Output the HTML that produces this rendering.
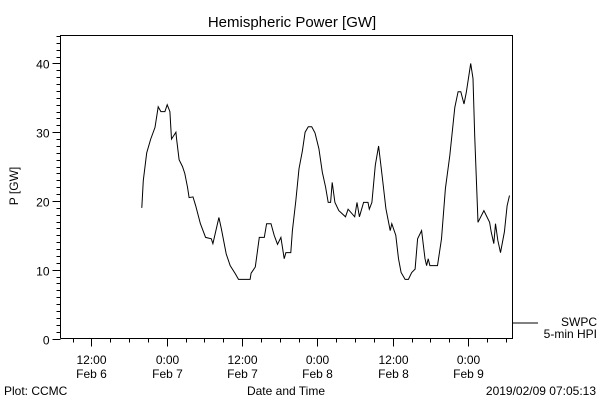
<!DOCTYPE html>
<html><head><meta charset="utf-8"><style>
body{margin:0;background:#fff}
svg text{font-family:"Liberation Sans",sans-serif;fill:#000}
</style></head><body>
<svg id="chart" width="600" height="400" viewBox="0 0 600 400" xmlns="http://www.w3.org/2000/svg">
<text x="292" y="27" font-size="15" text-anchor="middle">Hemispheric Power [GW]</text>
<text x="18" y="186" font-size="12" text-anchor="middle" transform="rotate(-90 18 186)">P [GW]</text>
<text x="286" y="395" font-size="12" text-anchor="middle">Date and Time</text>
<text x="4" y="395" font-size="12">Plot: CCMC</text>
<text x="596" y="395" font-size="12" text-anchor="end">2019/02/09 07:05:13</text>
<g id="axes"></g>
<polyline id="series" fill="none" stroke="#000" stroke-width="1"/>
<line x1="513" y1="323" x2="538" y2="323" stroke="#000"/>
<text x="597" y="326" font-size="12" text-anchor="end">SWPC</text>
<text x="597" y="338" font-size="12" text-anchor="end">5-min HPI</text>
</svg>
<script>
// hours since Feb 6 00:00
const hours=[20.03,20.28,20.82,21.45,22.13,22.65,23.08,23.71,24.08,24.51,24.77,25.46,25.57,25.98,26.52,26.88,27.31,27.56,28.19,28.62,29.37,30.20,31.11,31.36,32.31,32.69,33.48,34.12,34.95,35.43,37.28,37.44,38.12,38.75,39.54,39.91,40.61,41.13,41.65,42.19,42.71,42.98,43.77,44.03,44.57,45.08,45.61,46.04,46.56,47.10,47.62,48.25,48.78,49.31,49.72,50.10,50.36,50.79,51.42,52.48,52.89,53.95,54.31,54.69,55.37,56.06,56.28,56.69,57.23,57.75,58.38,58.91,59.60,59.86,60.49,60.92,61.34,61.98,62.50,63.02,63.56,63.97,64.61,65.14,65.40,65.66,65.93,67.14,67.77,68.40,69.10,69.89,70.41,70.84,71.36,71.73,72.42,72.79,73.06,73.58,74.53,75.43,75.69,76.11,76.38,76.74,77.17,77.80,78.22,78.60];
const power=[19,23,27,29,30.7,33.7,33,33,34,33,29,30,29,26,25,24,22,20.5,20.6,19.3,16.7,14.7,14.5,13.8,17.6,16,12.3,10.6,9.4,8.6,8.6,9.5,10.4,14.7,14.7,16.7,16.7,15,13.7,14.7,11.6,12.5,12.5,15.7,20,24.7,27.3,30,30.8,30.8,29.9,27.6,24.2,22,19.8,19.8,22.7,19.8,18.6,17.7,18.8,17.7,19.8,17.7,19.8,19.8,18.8,19.8,25.2,28,23.2,18.9,15.7,16.7,15,11.6,9.6,8.6,8.6,9.6,10.1,14.5,15.7,11.6,10.6,11.6,10.6,10.6,14.5,21.8,26.6,33.6,35.9,35.9,34.1,35.8,40,37.8,29.5,16.9,18.6,16.9,15.5,13.8,16.7,14.3,12.5,15.5,19.3,20.8];
const yTicks=["0","10","20","30","40"];
const xTickLabels=[["12:00","Feb 6"],["0:00","Feb 7"],["12:00","Feb 7"],["0:00","Feb 8"],["12:00","Feb 8"],["0:00","Feb 9"]];
const L=60.5,R=512.5,T=35.5,B=338.5,H0=7.083,H1=79.083,YMAX=44.07;
const sx=h=>L+(h-H0)/(H1-H0)*(R-L);
const sy=v=>B-v/YMAX*(B-T);
const NS="http://www.w3.org/2000/svg";
const ax=document.getElementById('axes');
function mk(tag,attrs){const e=document.createElementNS(NS,tag);for(const k in attrs)e.setAttribute(k,attrs[k]);ax.appendChild(e);return e;}
let f=mk('path',{d:`M${L},${B}V${T}H${R}V${B}H${L}`,fill:'none',stroke:'#000'});


for(let v=0;v<=44;v++){const y=Math.round(sy(v))+0.5;const major=v%10===0;
 const t=mk('line',{x1:L-(major?8:4),x2:L,y1:y,y2:y,stroke:'#000'});
 
 
 if(major){const tx=mk('text',{x:L-11,y:y+5,'font-size':12,'text-anchor':'end'});tx.textContent=yTicks[v/10];
 
 }}
for(let h=9;h<=78;h+=3){const x=Math.round(sx(h))+0.5;const major=h%12===0;
 const t=mk('line',{x1:x,x2:x,y1:B,y2:B+(major?8:4),stroke:'#000'});
 
 
 if(major){const lab=xTickLabels[(h-12)/12];
  const a=mk('text',{x:x,y:364,'font-size':12,'text-anchor':'middle'});a.textContent=lab[0];
  
  
  const b=mk('text',{x:x,y:378,'font-size':12,'text-anchor':'middle'});b.textContent=lab[1];
  
  }}
document.getElementById('series').setAttribute('points',hours.map((h,i)=>sx(h).toFixed(1)+','+sy(power[i]).toFixed(1)).join(' '));
</script>
</body></html>
